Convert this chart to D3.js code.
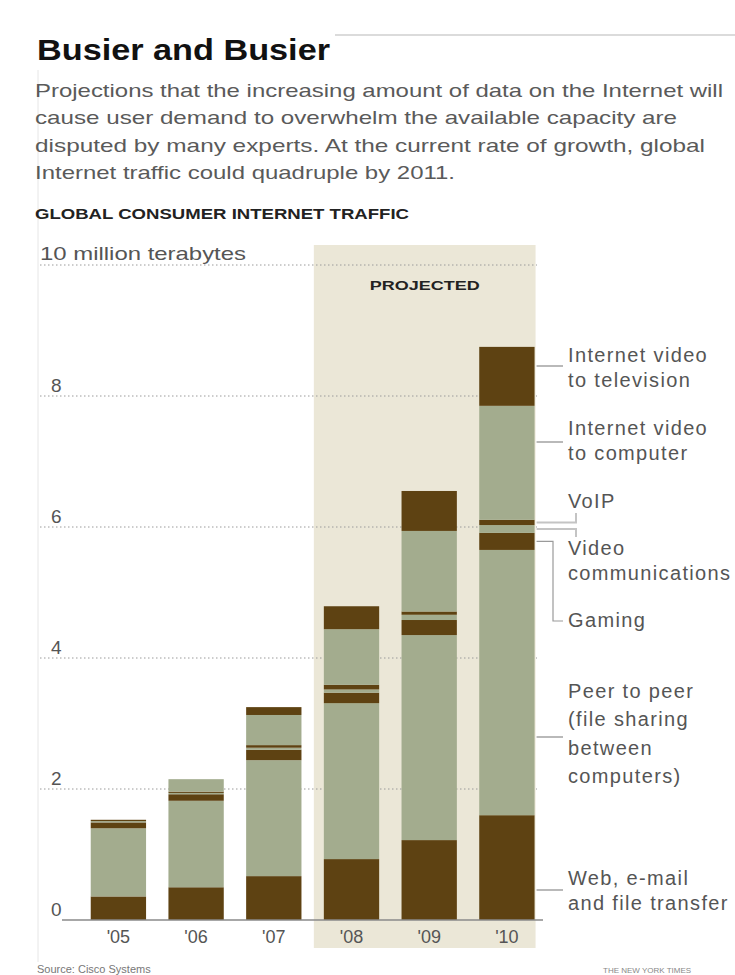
<!DOCTYPE html>
<html>
<head>
<meta charset="utf-8">
<script src="https://cdn.jsdelivr.net/npm/d3@7"></script>
<style>
  html, body { margin: 0; padding: 0; background: #fff; }
  svg { display: block; }
  text { font-family: "Liberation Sans", Arial, sans-serif; }
</style>
</head>
<body>
<svg id="chart" width="735" height="975"></svg>
<script>
// Global consumer Internet traffic, millions of terabytes per year
const years = ["'05", "'06", "'07", "'08", "'09", "'10"];
const projectedYears = ["'08", "'09", "'10"];

const web          = [0.36, 0.50, 0.67, 0.93, 1.22, 1.60];
const peerToPeer   = [1.04, 1.32, 1.77, 2.38, 3.13, 4.05];
const gaming       = [0.09, 0.10, 0.16, 0.16, 0.23, 0.26];
const videoComm    = [0.02, 0.02, 0.03, 0.05, 0.08, 0.12];
const voip         = [0.02, 0.02, 0.04, 0.07, 0.05, 0.08];
const videoToPC    = [0.00, 0.19, 0.46, 0.85, 1.23, 1.74];
const videoToTV    = [0.00, 0.00, 0.12, 0.35, 0.61, 0.90];

const yTicks = [0, 2, 4, 6, 8, 10];

const seriesKeys = ["web", "p2p", "gaming", "videoComm", "voip", "videoPC", "videoTV"];
const seriesValues = {
  web: web, p2p: peerToPeer, gaming: gaming, videoComm: videoComm,
  voip: voip, videoPC: videoToPC, videoTV: videoToTV
};

const introLines = [
  "Projections that the increasing amount of data on the Internet will",
  "cause user demand to overwhelm the available capacity are",
  "disputed by many experts. At the current rate of growth, global",
  "Internet traffic could quadruple by 2011."
];

// ---------- layout ----------
const DARK = "#5e4212", GREEN = "#a3ac8e", SHADE = "#ebe7d7", GREY = "#555";
const colorOf = { web: DARK, p2p: GREEN, gaming: DARK, videoComm: GREEN, voip: DARK, videoPC: GREEN, videoTV: DARK };

const svg = d3.select("#chart");

// rows for the stack
const rows = years.map((y, i) => {
  const r = { year: y };
  seriesKeys.forEach(k => r[k] = seriesValues[k][i]);
  return r;
});
const stacked = d3.stack().keys(seriesKeys)(rows);

const x = d3.scaleBand().domain(years).range([75.2, 550.1]).paddingInner(0.288).paddingOuter(0.2);
const y = d3.scaleLinear().domain([0, 10]).range([920, 265]);

// frame lines
svg.append("line").attr("x1", 335).attr("x2", 735).attr("y1", 35).attr("y2", 35)
  .attr("stroke", "#cfcfcf").attr("stroke-width", 1.5);
svg.append("line").attr("x1", 38).attr("x2", 38).attr("y1", 70).attr("y2", 962)
  .attr("stroke", "#e6e6e6").attr("stroke-width", 1);

// headline and intro
function fit(sel, w) { sel.attr("textLength", w).attr("lengthAdjust", "spacingAndGlyphs"); return sel; }

fit(svg.append("text").attr("x", 37).attr("y", 60)
  .attr("font-size", 30).attr("font-weight", "bold").attr("fill", "#111")
  .text("Busier and Busier"), 293);

const introWidths = [688, 642, 670, 420];
introLines.forEach((t, i) => {
  fit(svg.append("text").attr("x", 35).attr("y", 97 + i * 27.3)
    .attr("font-size", 19).attr("fill", "#5a5a5a").text(t), introWidths[i]);
});

fit(svg.append("text").attr("x", 35).attr("y", 219)
  .attr("font-size", 15).attr("font-weight", "bold").attr("fill", "#222")
  .text("GLOBAL CONSUMER INTERNET TRAFFIC"), 374);

// projected shading
const shadeX0 = x(projectedYears[0]) - 10;
const shadeX1 = x(projectedYears[projectedYears.length - 1]) + x.bandwidth() + 1;
svg.append("rect").attr("x", shadeX0).attr("y", 245)
  .attr("width", shadeX1 - shadeX0).attr("height", 948 - 245).attr("fill", SHADE);
fit(svg.append("text").attr("x", (shadeX0 + shadeX1) / 2).attr("y", 290)
  .attr("text-anchor", "middle").attr("font-size", 13).attr("font-weight", "bold")
  .attr("fill", "#222").text("PROJECTED"), 110);

// gridlines
svg.append("g").selectAll("line").data(yTicks.filter(d => d > 0)).join("line")
  .attr("x1", 40).attr("x2", 537)
  .attr("y1", d => y(d)).attr("y2", d => y(d))
  .attr("stroke", "#9a9a9a").attr("stroke-width", 1).attr("stroke-dasharray", "1.5,2.5");

// y tick labels
svg.append("g").selectAll("text").data(yTicks.filter(d => d < 10)).join("text")
  .attr("x", 51).attr("y", d => y(d) - 4)
  .attr("font-family", "DejaVu Sans").attr("font-size", 19).attr("fill", GREY)
  .text(d => d);
fit(svg.append("text").attr("x", 40).attr("y", 260)
  .attr("font-family", "DejaVu Sans").attr("font-size", 19).attr("fill", GREY)
  .text("10 million terabytes"), 206);

// stacked bars
svg.append("g").selectAll("g").data(stacked).join("g")
  .attr("fill", d => colorOf[d.key])
  .selectAll("rect").data(d => d).join("rect")
  .attr("x", d => x(d.data.year))
  .attr("width", x.bandwidth())
  .attr("y", d => y(d[1]))
  .attr("height", d => Math.max(0, y(d[0]) - y(d[1])));

// baseline
svg.append("line").attr("x1", 62).attr("x2", 543).attr("y1", y(0)).attr("y2", y(0))
  .attr("stroke", "#8a8a8a").attr("stroke-width", 1.5);

// x labels
svg.append("g").selectAll("text").data(years).join("text")
  .attr("x", d => x(d) + x.bandwidth() / 2).attr("y", 943)
  .attr("text-anchor", "middle").attr("font-family", "DejaVu Sans")
  .attr("font-size", 18).attr("fill", GREY).text(d => d);

// series labels at the right
const labelX = 568;
const labelLayout = [
  { lines: ["Internet video", "to television"], base: [362, 387], leader: 366 },
  { lines: ["Internet video", "to computer"], base: [435, 460], leader: 442 },
  { lines: ["VoIP"], base: [508] },
  { lines: ["Video", "communications"], base: [555, 580] },
  { lines: ["Gaming"], base: [627] },
  { lines: ["Peer to peer", "(file sharing", "between", "computers)"], base: [698, 726, 755, 783], leader: 737 },
  { lines: ["Web, e-mail", "and file transfer"], base: [885, 910], leader: 890 }
];
const barRight = x(years[years.length - 1]) + x.bandwidth();
labelLayout.forEach(l => {
  l.lines.forEach((t, i) => {
    svg.append("text").attr("x", labelX).attr("y", l.base[i])
      .attr("font-family", "DejaVu Sans").attr("font-size", 20)
      .attr("letter-spacing", 1.35).attr("fill", GREY).text(t);
  });
  if (l.leader !== undefined) {
    svg.append("line").attr("x1", barRight + 2).attr("x2", labelX - 5)
      .attr("y1", l.leader).attr("y2", l.leader)
      .attr("stroke", "#8a8a8a").attr("stroke-width", 1.2);
  }
});

// bent leaders for the thin bands of the last bar
const last = years.length - 1;
const midOf = key => { const s = stacked.find(d => d.key === key)[last]; return y((s[0] + s[1]) / 2); };
const leader = svg.append("g").attr("fill", "none").attr("stroke", "#9a9a9a").attr("stroke-width", 1.2);
leader.append("path").attr("d", `M${barRight + 2},${midOf("voip")} H576 V513`).attr("stroke", "#c4c4c4").attr("stroke-width", 2);
leader.append("path").attr("d", `M${barRight + 2},${midOf("videoComm")} H576 V537`).attr("stroke", "#c4c4c4").attr("stroke-width", 2);
leader.append("path").attr("d", `M${barRight + 2},${midOf("gaming")} H553 V621 H563`);

// footer
svg.append("text").attr("x", 37).attr("y", 973).attr("font-size", 11).attr("fill", "#777").text("Source: Cisco Systems");
svg.append("text").attr("x", 603).attr("y", 973).attr("font-size", 8).attr("fill", "#888").text("THE NEW YORK TIMES");
</script>
</body>
</html>
